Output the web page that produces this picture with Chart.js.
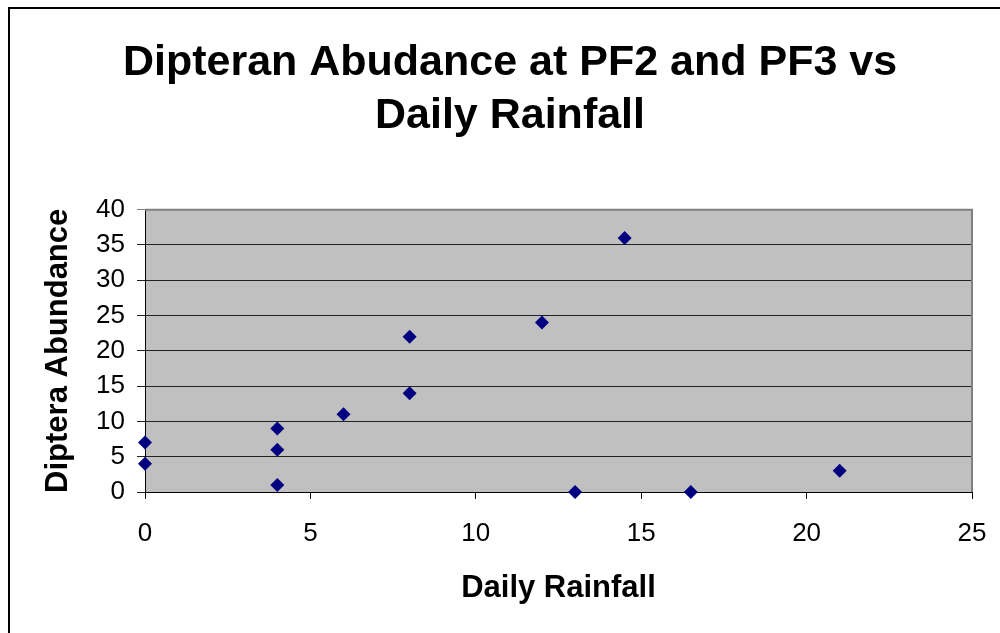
<!DOCTYPE html>
<html>
<head>
<meta charset="utf-8">
<script src="https://cdn.jsdelivr.net/npm/chart.js@4.4.1/dist/chart.umd.min.js"></script>
<style>
  html, body { margin: 0; padding: 0; background: #fff; }
  canvas { display: block; }
</style>
</head>
<body>
<canvas id="myChart" width="1000" height="633"></canvas>
<script>
// values
const rainfall = [0, 0, 4, 4, 4, 6, 8, 8, 12, 13, 14.5, 16.5, 21];
const abundance = [7, 4, 9, 6, 1, 11, 22, 14, 24, 0, 36, 0, 3];
const titleLines = ["Dipteran Abudance at PF2 and PF3 vs", "Daily Rainfall"];
const xTitle = "Daily Rainfall";
const yTitle = "Diptera Abundance";

const FONT = "'Liberation Sans', Arial, Helvetica, sans-serif";

// grey plot area, grey top/right edge and the black outer frame
const frame = {
    id: "frame",
    beforeDraw(chart) {
        const c = chart.ctx;
        const a = chart.chartArea;
        c.save();
        c.fillStyle = "#fff";
        c.fillRect(0, 0, chart.width, chart.height);
        c.fillStyle = "#c0c0c0";
        c.fillRect(a.left, a.top, a.right - a.left, a.bottom - a.top);
        c.restore();
    },
    afterDatasetsDraw(chart) {
        const c = chart.ctx;
        const a = chart.chartArea;
        c.save();
        c.strokeStyle = "#808080";
        c.lineWidth = 2;
        c.beginPath();
        c.moveTo(a.left, a.top);
        c.lineTo(a.right, a.top);
        c.lineTo(a.right, a.bottom);
        c.stroke();
        c.restore();
    },
    afterDraw(chart) {
        const c = chart.ctx;
        c.save();
        c.strokeStyle = "#000";
        c.lineWidth = 2;
        c.strokeRect(9, 8, 1200, 800);
        c.restore();
    }
};

const points = rainfall.map((x, i) => ({ x: x, y: abundance[i] }));

const ctx = document.getElementById("myChart").getContext("2d");
const myChart = new Chart(ctx, {
    type: "scatter",
    data: {
        datasets: [{
            label: "Abundance",
            data: points,
            clip: false,
            pointStyle: "rectRot",
            pointRadius: 7,
            pointHoverRadius: 7,
            backgroundColor: "#000080",
            borderColor: "#000080",
            borderWidth: 0
        }]
    },
    options: {
        responsive: false,
        animation: false,
        devicePixelRatio: 1,
        layout: { padding: { left: 48, right: 28, top: 0, bottom: 22 } },
        plugins: {
            legend: { display: false },
            tooltip: { enabled: false },
            title: {
                display: true,
                text: titleLines,
                color: "#000",
                font: { family: FONT, size: 43, weight: "bold", lineHeight: 1.24 },
                padding: { top: 36, bottom: 67 }
            }
        },
        scales: {
            x: {
                type: "linear",
                min: 0,
                max: 25,
                afterFit(scale) {
                    scale.height = 633 - 492 - 22;
                    scale.paddingLeft = 0;
                    scale.paddingRight = 0;
                },
                ticks: {
                    stepSize: 5,
                    color: "#000",
                    padding: 19,
                    font: { family: FONT, size: 26 }
                },
                grid: {
                    drawOnChartArea: false,
                    drawTicks: true,
                    tickLength: 7,
                    color: "#000"
                },
                border: { color: "#000", width: 1 },
                title: {
                    display: true,
                    text: xTitle,
                    color: "#000",
                    font: { family: FONT, size: 31, weight: "bold" },
                    padding: { top: 4, bottom: 4 }
                }
            },
            y: {
                min: 0,
                max: 40,
                afterFit(scale) { scale.width = 145 - 48; },
                ticks: {
                    stepSize: 5,
                    color: "#000",
                    padding: 12,
                    font: { family: FONT, size: 26 }
                },
                grid: {
                    drawTicks: true,
                    tickLength: 8,
                    color: (c) => (c.tick && c.tick.value === 40 ? "#808080" : "#222"),
                    lineWidth: 1
                },
                border: { color: "#000", width: 1 },
                title: {
                    display: true,
                    text: yTitle,
                    color: "#000",
                    font: { family: FONT, size: 31, weight: "bold" },
                    padding: { top: -8, bottom: 4 }
                }
            }
        }
    },
    plugins: [frame]
});
</script>
</body>
</html>
